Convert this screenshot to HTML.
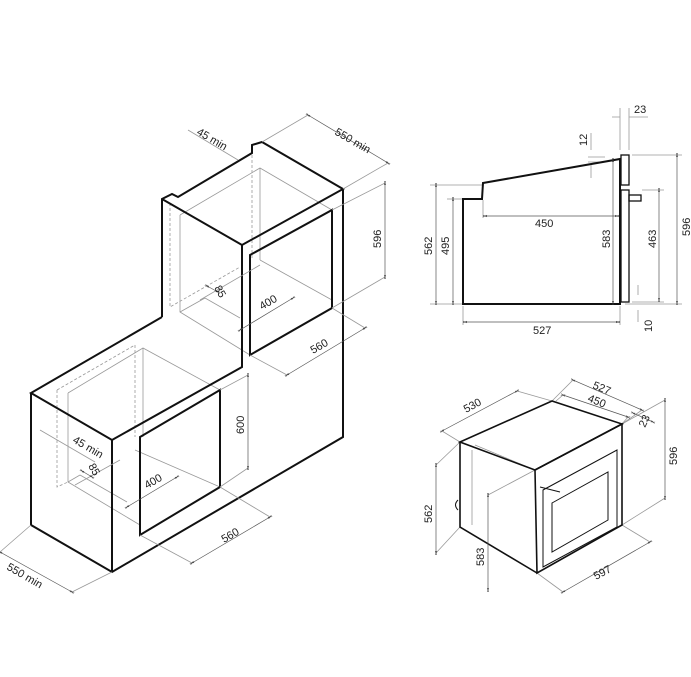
<!DOCTYPE html>
<html><head><meta charset="utf-8"><style>
html,body{margin:0;padding:0;background:#fff;}
svg{display:block;}
text{font-family:"Liberation Sans Narrow","Liberation Sans",sans-serif;font-size:11px;fill:#222;}
.k{stroke:#111;stroke-width:2;fill:none;stroke-linejoin:miter;}
.g{stroke:#999;stroke-width:0.8;fill:none;}
.d{stroke:#999;stroke-width:0.8;fill:none;stroke-dasharray:3,2;}
.m{stroke:#555;stroke-width:0.7;fill:none;marker-start:url(#a);marker-end:url(#a);}
.t{stroke:#111;stroke-width:1.3;fill:none;}
</style></head><body>
<svg width="691" height="677" viewBox="0 0 691 677">
<defs><marker id="a" viewBox="0 0 10 10" refX="5" refY="5" markerWidth="6" markerHeight="6" orient="auto"><path d="M0,3 L5,5 L0,7 M10,3 L5,5 L10,7" fill="none" stroke="#333" stroke-width="1.2"/></marker></defs>

<!-- LEFT ISOMETRIC -->
<g class="g">
<path d="M180,215 L180,312 L250,355"/><path d="M180,215 L260,168 L332,210"/><path d="M260,168 L260,260"/>
<path d="M180,312 L205,298"/><path d="M260,260 L332,300"/>
<path d="M68,393 L68,482 L140,525"/><path d="M68,393 L143,348 L220,390"/><path d="M143,348 L143,437"/>
<path d="M68,482 L80,475"/><path d="M135,450 L220,487"/>
<path d="M205,298 L240,318"/><path d="M80,475 L127,502"/>
</g>
<g class="d">
<path d="M252,150 L252,260"/><path d="M170,203 L170,307 L240,267"/>
<path d="M57,390 L57,487 L68,482"/><path d="M135,345 L135,437"/><path d="M57,390 L135,345"/>
</g>
<g class="k">
<path d="M162,317 L162,199 L172,194 L178,197 L252,153 L252,145 L262,142 L343,189 L242,245 L162,199"/>
<path d="M242,245 L242,367 L112,440 L31,393 L162,317"/>
<path d="M343,189 L343,437 L112,572 L31,525 L31,393"/>
<path d="M112,440 L112,572"/>
<path d="M250,255 L332,210 L332,308 L250,355 Z"/>
<path d="M140,437 L220,390 L220,487 L140,535 Z"/>
</g>
<!-- left dims -->
<g class="g">
<path d="M262,142 L308,115"/><path d="M343,189 L388,163"/><path d="M332,210 L385,183"/><path d="M332,308 L385,277"/>
<path d="M250,355 L287,375"/><path d="M332,308 L365,328"/><path d="M220,390 L248,375"/><path d="M220,487 L248,468"/>
<path d="M140,535 L192,563"/><path d="M220,487 L270,517"/><path d="M31,525 L0,552"/><path d="M112,572 L72,592"/>
<path d="M188,130 L238,160"/><path d="M40,430 L95,462"/>
<path d="M200,300 L260,265"/><path d="M75,485 L120,460"/>
</g>
<path class="m" d="M308,115 L388,163"/>
<path class="m" d="M385,183 L385,277"/>
<path class="m" d="M287,375 L365,328"/>
<path class="m" d="M248,375 L248,468"/>
<path class="m" d="M192,563 L270,517"/>
<path class="m" d="M0,552 L72,592"/>
<path class="m" d="M207,286 L218,292"/>
<path class="m" d="M240,330 L293,298"/>
<path class="m" d="M82,471 L92,477"/>
<path class="m" d="M127,507 L177,477"/>
<text transform="translate(334,134) rotate(30)">550 min</text>
<text transform="translate(196,134) rotate(30)">45 min</text>
<text transform="translate(381,248) rotate(-90)">596</text>
<text transform="translate(313,354) rotate(-30)">560</text>
<text transform="translate(214,288) rotate(60)">85</text>
<text transform="translate(262,310) rotate(-30)">400</text>
<text transform="translate(244,434) rotate(-90)">600</text>
<text transform="translate(224,543) rotate(-30)">560</text>
<text transform="translate(6,569) rotate(30)">550 min</text>
<text transform="translate(72,442) rotate(30)">45 min</text>
<text transform="translate(88,466) rotate(60)">85</text>
<text transform="translate(147,489) rotate(-30)">400</text>

<!-- RIGHT TOP SIDE VIEW -->
<g class="g">
<path d="M430,185 L483,185"/><path d="M447,199 L463,199"/><path d="M430,304 L463,304"/>
<path d="M463,306 L463,325"/><path d="M620,306 L620,325"/><path d="M483,200 L483,218"/>
<path d="M588,157 L605,157"/><path d="M588,162 L605,162"/>
<path d="M620,108 L620,150"/><path d="M629,108 L629,150"/>
<path d="M632,155 L682,155"/><path d="M642,190 L664,190"/><path d="M632,302 L664,302"/><path d="M625,304 L682,304"/>
</g>
<g class="k"><path d="M463,304 L463,199 L482,199 L483,183 L620,159 L620,304 Z"/></g>
<g class="t"><rect x="621" y="155" width="8" height="30"/><rect x="621" y="190" width="8" height="112"/><rect x="629" y="195" width="12" height="6"/></g>
<path class="m" d="M436,185 L436,303"/>
<path class="m" d="M453,199 L453,303"/>
<path class="m" d="M485,216 L617,216"/>
<path class="m" d="M613,160 L613,303"/>
<path class="m" d="M659,190 L659,300"/>
<path class="m" d="M677,155 L677,303"/>
<path class="m" d="M465,322 L618,322"/>
<path class="g" d="M612,117 L620,117 M629,117 L648,117 M591,133 L591,150 M591,165 L591,178 M638,285 L638,295 M638,310 L638,322"/>
<text x="535" y="227">450</text>
<text transform="translate(432,255) rotate(-90)">562</text>
<text transform="translate(449,255) rotate(-90)">495</text>
<text transform="translate(610,248) rotate(-90)">583</text>
<text transform="translate(656,248) rotate(-90)">463</text>
<text transform="translate(690,236) rotate(-90)">596</text>
<text x="533" y="334">527</text>
<text x="634" y="113">23</text>
<text transform="translate(587,146) rotate(-90)">12</text>
<text transform="translate(652,332) rotate(-90)">10</text>

<!-- RIGHT BOTTOM PERSPECTIVE -->
<g class="g">
<path d="M460,442 L442,431"/><path d="M552,401 L517,391"/><path d="M552,401 L573,380"/><path d="M622,424 L642,410"/>
<path d="M563,395 L556,401"/><path d="M622,424 L628,417"/><path d="M622,424 L665,400"/><path d="M622,525 L665,498"/>
<path d="M460,527 L436,553"/><path d="M460,442 L436,465"/><path d="M535,470 L488,495"/><path d="M537,573 L563,592"/><path d="M622,525 L650,542"/>
<path d="M475,445 L535,470"/><path d="M472,450 L472,525"/><path d="M535,470 L537,573"/>
</g>
<g class="k" style="stroke-width:1.6">
<path d="M460,442 L552,401 L622,424 L535,470 Z"/>
<path d="M535,470 L622,424 L622,525 L537,573 Z"/>
<path d="M460,442 L460,527 L537,573"/>
</g>
<g class="t" style="stroke-width:1">
<path d="M543,490 L617,450 L617,527 L543,567 Z"/>
<path d="M552,503 L608,472 L608,520 L552,552 Z"/>
<path d="M540,487 L560,492"/>
<path d="M458,500 q-5,5 0,10"/>
</g>
<path class="m" d="M442,431 L517,391"/>
<path class="m" d="M573,380 L642,410"/>
<path class="m" d="M563,395 L628,417"/>
<path class="m" d="M665,400 L665,498"/>
<path class="m" d="M436,465 L436,553"/>
<path class="m" d="M488,495 L488,590"/>
<path class="m" d="M563,592 L650,542"/>
<path class="m" d="M633,413 L653,422"/>
<text transform="translate(466,413) rotate(-28)">530</text>
<text transform="translate(592,388) rotate(22)">527</text>
<text transform="translate(587,401) rotate(22)">450</text>
<text transform="translate(645,428) rotate(-65)">23</text>
<text transform="translate(677,465) rotate(-90)">596</text>
<text transform="translate(432,523) rotate(-90)">562</text>
<text transform="translate(484,566) rotate(-90)">583</text>
<text transform="translate(596,580) rotate(-28)">597</text>
</svg>
</body></html>
